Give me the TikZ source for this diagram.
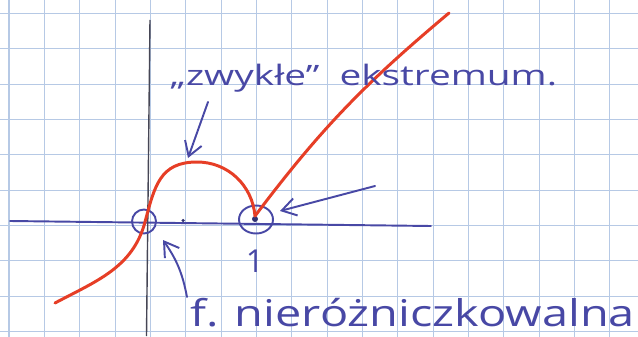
\documentclass[tikz,border=0pt]{standalone}
\usepackage{fontspec}
\setmainfont{Open Sans}
\usetikzlibrary{arrows.meta, shapes.geometric}
\definecolor{Cink}{RGB}{72,72,165}
\definecolor{Cred}{RGB}{230,62,38}
\definecolor{Cgrid}{RGB}{182,201,229}
\definecolor{Caxis}{RGB}{70,70,85}
\tikzset{
  gridline/.style={draw=Cgrid, line width=0.6pt},
  inkline/.style={draw=Cink, line width=1.1pt, line cap=round},
  inkarr/.style={-{Straight Barb[length=8pt, width=10pt]}, inkline},
  ring/.style={draw=Cink, line width=1.1pt, ellipse, inner sep=0pt},
  dotmark/.style={circle, fill=Cink!70!black, inner sep=0pt},
  graph/.style={draw=Cred, line width=1.7pt, line join=round, line cap=round},
  hand/.style={text=Cink, inner sep=0pt},
}
\begin{document}
\begin{tikzpicture}
\useasboundingbox (0,0) rectangle (12.76,6.72);
\clip (0,0) rectangle (12.76,6.72);

%% squared paper
\draw[gridline, step=0.707, shift={(0.18,0.09)}] (-0.5,-0.5) grid (13,7);

%% axes
\draw[inkline] (0.20,2.30) -- (8.62,2.20);
\draw[draw=Caxis, line width=0.8pt] (3.00,6.32) -- (2.93,0);

%% marked points
\node[ring, minimum width=0.48cm, minimum height=0.48cm] (zero) at (2.88,2.29) {};
\node[ring, minimum width=0.68cm, minimum height=0.56cm] (one) at (5.12,2.33) {};
\node[dotmark, minimum size=0.12cm] (onedot) at (5.10,2.34) {};
\node[dotmark, minimum size=0.07cm] (tick) at (3.66,2.31) {};
\node[hand, font=\fontsize{18}{20}\selectfont] (onelbl) at (5.10,1.50) {1};

%% the function: smooth through 0, a hump, a corner at 1
\draw[graph] (1.10,0.66) to[out=28, in=255] (2.90,2.28)
  to[out=75, in=180, looseness=1.2] (3.94,3.48)
  to[out=0, in=95] (5.10,2.40)
  to[out=53, in=220] (8.98,6.46);

%% labels
\node[hand, anchor=base west, font=\fontsize{16}{18}\selectfont] (extlbl) at (3.40,5.02)
  {\scalebox{1.38}[1]{„zwykłe”\ \ ekstremum.}};
\node[hand, anchor=base west, font=\fontsize{21}{24}\selectfont] (ndlbl) at (3.80,0.20)
  {\scalebox{1.27}[1]{f. nieróżniczkowalna}};

%% pointers
\coordinate (extTail) at (4.16,4.68);
\coordinate (extTip)  at (3.76,3.56);
\coordinate (oneTail) at (7.50,3.00);
\coordinate (oneTip)  at (5.60,2.50);
\coordinate (ndTail)  at (3.74,0.78);
\coordinate (ndTip)   at (3.26,1.92);
\draw[inkarr] (extTail) -- (extTip);
\draw[inkarr] (oneTail) -- (oneTip);
\draw[inkarr] (ndTail) to[bend right=12] (ndTip);

\end{tikzpicture}
\end{document}
